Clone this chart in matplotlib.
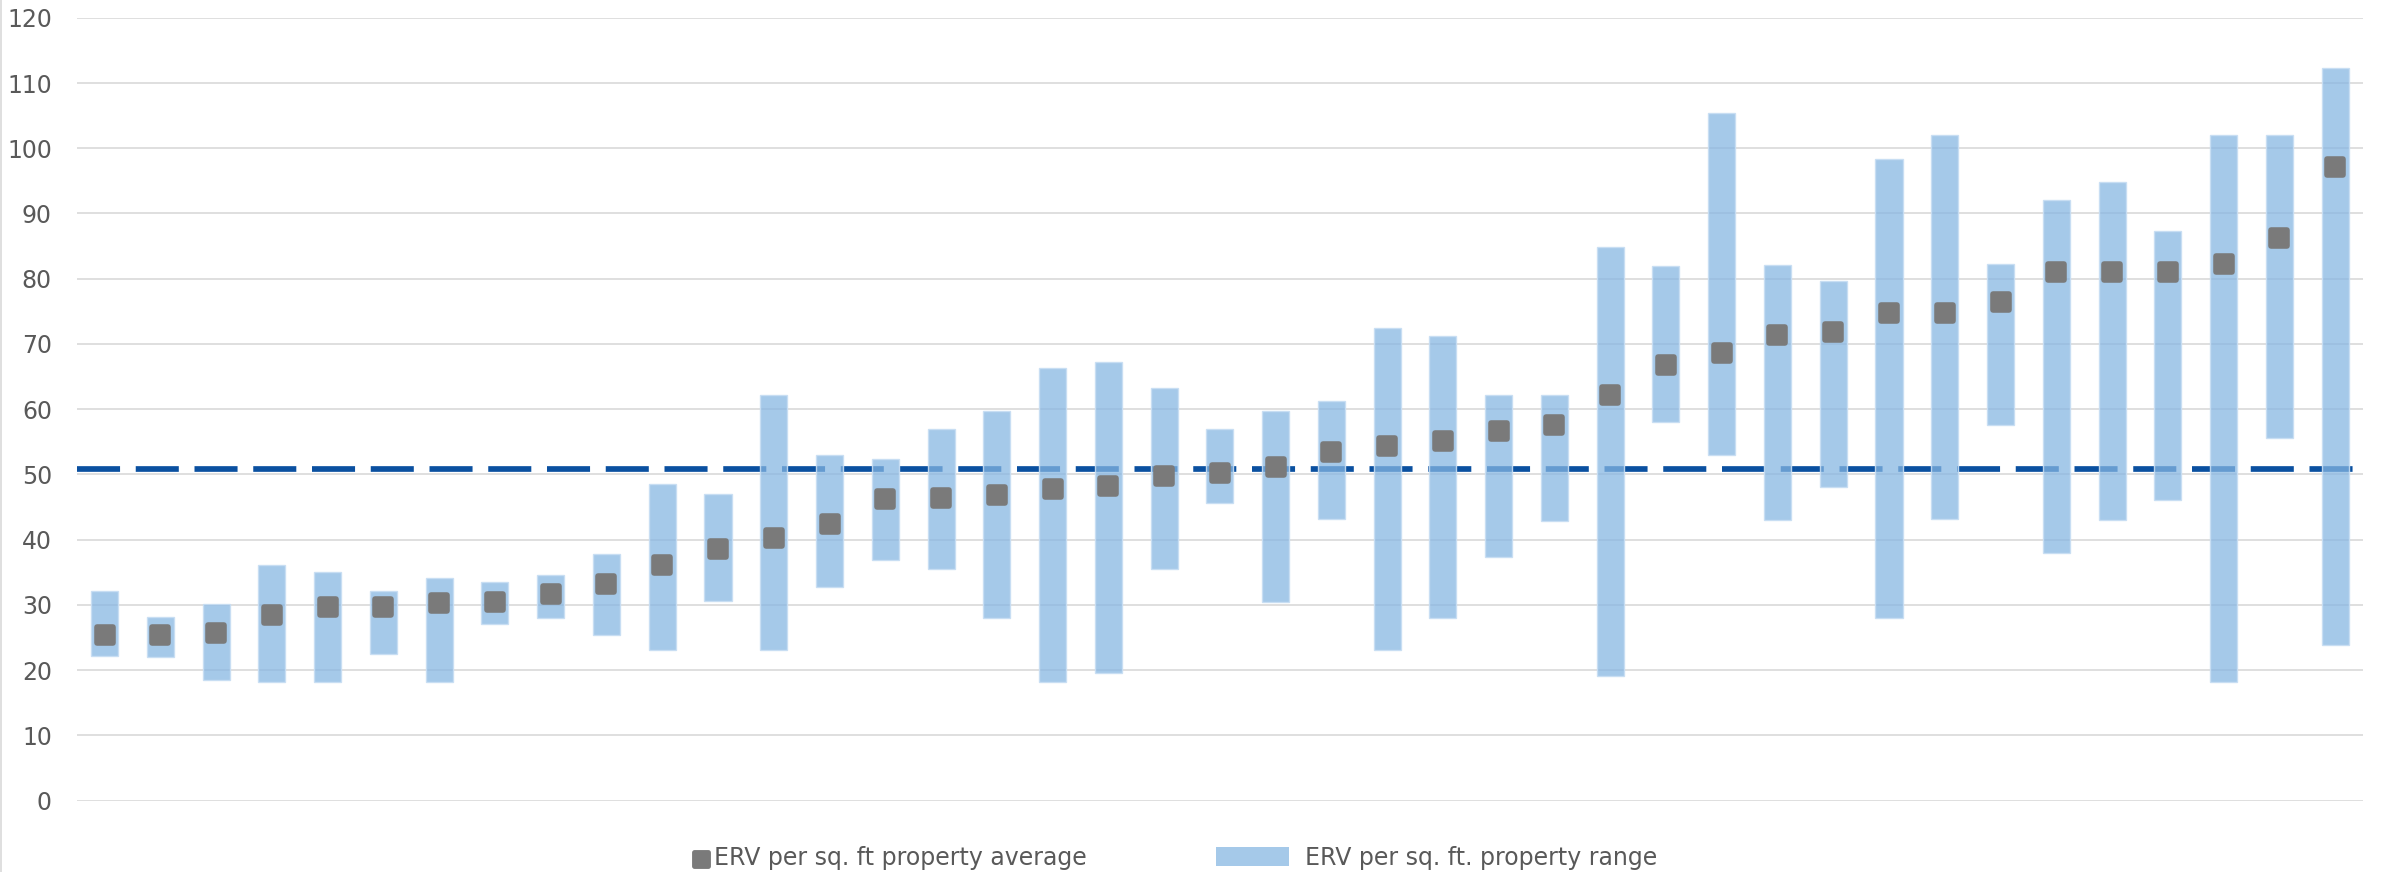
import matplotlib
matplotlib.use("Agg")
import matplotlib.pyplot as plt
from matplotlib.markers import MarkerStyle
from matplotlib.lines import Line2D
from matplotlib.patches import Rectangle
import numpy as np

# ---- data ----
range_low = [22.1, 22.0, 18.5, 18.2, 18.1, 22.5, 18.1, 27.0, 28.0, 25.4,
             23.0, 30.6, 23.0, 32.7, 36.8, 35.5, 28.0, 18.1, 19.6, 35.5,
             45.6, 30.5, 43.1, 23.0, 28.0, 37.4, 42.9, 19.1, 58.0, 52.9,
             43.0, 48.0, 28.0, 43.2, 57.5, 38.0, 43.0, 46.0, 18.1, 55.6, 23.9]
range_high = [32.1, 28.2, 30.2, 36.1, 35.0, 32.1, 34.1, 33.5, 34.5, 37.8,
              48.6, 47.0, 62.2, 53.0, 52.4, 57.0, 59.7, 66.3, 67.2, 63.3,
              57.0, 59.7, 61.2, 72.4, 71.2, 62.1, 62.2, 84.8, 82.0, 105.4,
              82.1, 79.6, 98.4, 102.0, 82.2, 92.0, 94.9, 87.3, 102.0, 102.0, 112.3]
average = [25.3, 25.4, 25.7, 28.4, 29.6, 29.7, 30.3, 30.5, 31.6, 33.2,
           36.1, 38.5, 40.3, 42.4, 46.3, 46.4, 46.8, 47.8, 48.2, 49.7,
           50.2, 51.1, 53.4, 54.4, 55.1, 56.6, 57.5, 62.1, 66.8, 68.6,
           71.3, 71.8, 74.7, 74.8, 76.5, 81.1, 81.1, 81.1, 82.3, 86.3, 97.2]
overall_average = 50.8
y_ticks = [0, 10, 20, 30, 40, 50, 60, 70, 80, 90, 100, 110, 120]
legend_labels = ["ERV per sq. ft property average", "ERV per sq. ft. property range"]

# ---- styling ----
W, H = 2389, 872
plt.rcParams['font.family'] = ['DejaVu Sans']
plt.rcParams['lines.scale_dashes'] = False
text_color = '#595959'
grid_color = '#d9d9d9'
bar_color = (134/255, 182/255, 226/255, 0.74)
bar_edge = (200/255, 222/255, 243/255, 0.9)
marker_color = '#7a7a7a'
dash_color = '#0a50a0'

fig = plt.figure(figsize=(W/100, H/100), dpi=100)
ax_top, ax_bot = 17.8, 800.5
ax = fig.add_axes([76.7/W, (H - ax_bot)/H, (2363-76.7)/W, (ax_bot - ax_top)/H])

n = len(average)
x = np.arange(n)
low = np.array(range_low)
high = np.array(range_high)

ax.set_xlim(-0.5, n - 0.5)
ax.set_ylim(0, 120)
ax.set_yticks(y_ticks)
ax.set_yticklabels([str(t) for t in y_ticks])
ax.set_xticks([])
for s in ax.spines.values():
    s.set_visible(False)
ax.tick_params(axis='y', length=0, pad=17.8, labelsize=17, labelcolor=text_color)
ax.yaxis.grid(True, color=grid_color, linewidth=1.2, zorder=0)
ax.set_axisbelow(True)

# overall average dashed line
ax.plot([-0.5, n - 0.5], [overall_average, overall_average], color=dash_color,
        linewidth=4.1, dashes=(31, 11.3), dash_capstyle='butt', zorder=1)

# range bars
ax.bar(x, high - low, bottom=low, width=0.485, color=bar_color,
       edgecolor=bar_edge, linewidth=1.0, zorder=2)

# average markers
ms = MarkerStyle('s', joinstyle='round')
ax.plot(x, average, linestyle='none', marker=ms, markersize=11,
        markerfacecolor=marker_color, markeredgecolor=marker_color,
        markeredgewidth=4, zorder=3)

# left border of chart area
fig.add_artist(Line2D([0.6/W, 0.6/W], [0, 1], color=grid_color, linewidth=1.2,
                      transform=fig.transFigure))

# ---- legend (drawn at the bottom) ----
ly = (H - 857.7) / H
ms2 = MarkerStyle('s', joinstyle='round')
fig.add_artist(Line2D([701/W], [(H - 858.5)/H], marker=ms2, markersize=9.5,
                      markerfacecolor=marker_color, markeredgecolor=marker_color,
                      markeredgewidth=3.5, transform=fig.transFigure, linestyle='none'))
fig.text(714/W, ly, legend_labels[0], color=text_color, fontsize=17,
         ha='left', va='center')
fig.add_artist(Rectangle((1216/W, (H - 866)/H), 73/W, 19/H, facecolor=bar_color,
                         edgecolor='none', transform=fig.transFigure))
fig.text(1305/W, ly, legend_labels[1], color=text_color, fontsize=17,
         ha='left', va='center')

fig.savefig('out.png', dpi=100, facecolor='white')
